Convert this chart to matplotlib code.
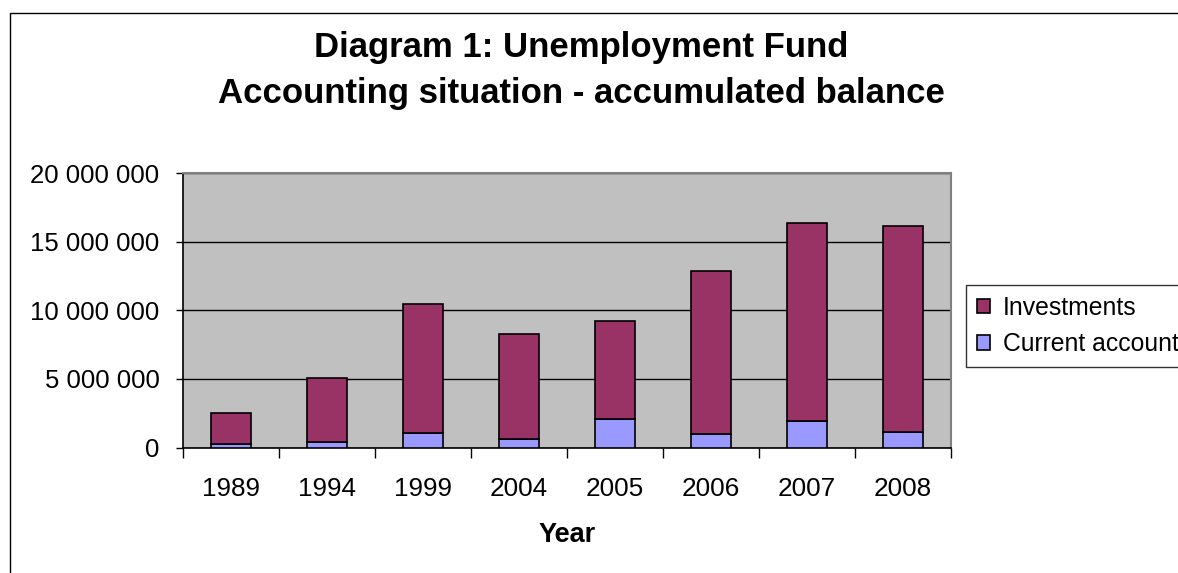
import matplotlib
matplotlib.use("Agg")
import matplotlib.pyplot as plt
from matplotlib.patches import Rectangle
from matplotlib.ticker import FuncFormatter

years = ["1989", "1994", "1999", "2004", "2005", "2006", "2007", "2008"]
current_account = [260000, 380000, 1080000, 600000, 2060000, 960000, 1940000, 1100000]
investments = [2280000, 4700000, 9360000, 7670000, 7160000, 11890000, 14450000, 15040000]

plt.rcParams['font.family'] = ['Liberation Sans', 'DejaVu Sans']

W, H = 1178, 573
fig = plt.figure(figsize=(W / 100, H / 100), dpi=100)
fig.patch.set_facecolor('white')

# outer chart frame (extends beyond right/bottom edges)
fig.patches.append(Rectangle((10 / W, -0.5), 2.0, 1.5 - 13 / H, transform=fig.transFigure,
                             fill=False, edgecolor='black', linewidth=1.0, zorder=0))

left, right, top, bottom = 183, 951, 173.3, 447.5
ax = fig.add_axes([left / W, 1 - bottom / H, (right - left) / W, (bottom - top) / H])
ax.set_facecolor('#C0C0C0')

x = list(range(len(years)))
bw = 0.42
ax.bar(x, current_account, width=bw, color='#9999FF', edgecolor='black', linewidth=1.2,
       label='Current account', zorder=3)
ax.bar(x, investments, width=bw, bottom=current_account, color='#993366', edgecolor='black',
       linewidth=1.2, label='Investments', zorder=3)

ax.set_xlim(-0.5, len(years) - 0.5)
ax.set_ylim(0, 20000000)
ax.set_yticks([0, 5000000, 10000000, 15000000, 20000000])
ax.yaxis.set_major_formatter(FuncFormatter(lambda v, p: f"{int(v):,}".replace(",", " ")))
ax.yaxis.grid(True, color='black', linewidth=1.0, zorder=1)
ax.set_axisbelow(True)

ax.set_xticks([i + 0.5 for i in range(-1, len(years))])
ax.set_xticklabels([])
ax.set_xticks(x, minor=True)
ax.set_xticklabels(years, minor=True)
ax.tick_params(axis='x', which='major', direction='out', length=7, width=1, color='black')
ax.tick_params(axis='x', which='minor', length=0, pad=21, labelsize=18.8)
ax.tick_params(axis='y', direction='out', length=5, width=1, pad=12, labelsize=18.5)

for s in ['top', 'right']:
    ax.spines[s].set_color('#808080')
    ax.spines[s].set_linewidth(1.5)
for s in ['left', 'bottom']:
    ax.spines[s].set_color('black')
    ax.spines[s].set_linewidth(1.2)

ax.set_xlabel('Year', fontsize=19.5, fontweight='bold', labelpad=15)

fig.text(581 / W, 1 - 48 / H, 'Diagram 1: Unemployment Fund', ha='center', va='center',
         fontsize=25, fontweight='bold')
fig.text(581 / W, 1 - 94 / H, 'Accounting situation - accumulated balance', ha='center',
         va='center', fontsize=25, fontweight='bold')

handles, labels = ax.get_legend_handles_labels()
leg = fig.legend(handles[::-1], labels[::-1], loc='upper left',
                 bbox_to_anchor=(966 / W, 1 - 284.7 / H), fontsize=17.8, frameon=True,
                 fancybox=False, edgecolor='black', handlelength=0.52, handleheight=0.52,
                 handletextpad=0.52, borderpad=0.45, labelspacing=0.5, borderaxespad=0)
leg.get_frame().set_linewidth(1.0)

fig.savefig('out.png', dpi=100, facecolor='white')
